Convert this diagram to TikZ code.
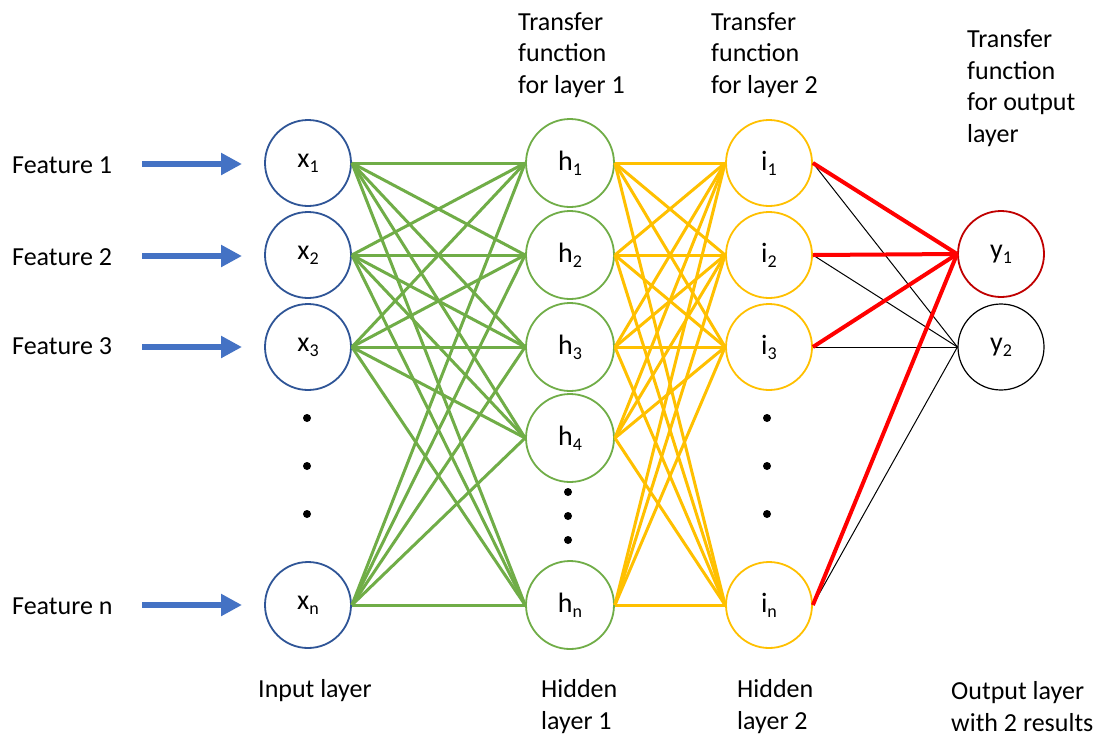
\documentclass[tikz,border=0pt]{standalone}
\usepackage{fontspec}
\setmainfont{Carlito}
\usetikzlibrary{arrows.meta}
\definecolor{inblue}{HTML}{2F5597}
\definecolor{arrblue}{HTML}{4472C4}
\definecolor{hgreen}{HTML}{70AD47}
\definecolor{iyellow}{HTML}{FFC000}
\definecolor{yred}{HTML}{C00000}
\definecolor{lred}{HTML}{FF0000}
\newcommand{\mysub}[1]{\raisebox{-5pt}{\fontsize{18}{18}\selectfont #1}}
\begin{document}
\begin{tikzpicture}[x=1pt,y=-1pt,
  txt/.style={font=\fontsize{26}{31.5}\selectfont, inner sep=0pt, align=left, anchor=base west},
  neuron/.style={circle, minimum size=86pt, inner sep=0pt, line width=1.8pt, font=\fontsize{28}{32}\selectfont},
  feat/.style={draw=arrblue, line width=6pt, -{Triangle[length=21pt,width=21pt]}},
  gline/.style={draw=hgreen, line width=3pt},
  yline/.style={draw=iyellow, line width=3pt},
  rline/.style={draw=lred, line width=4pt},
  kline/.style={draw=black, line width=1pt},
  dotnode/.style={circle, fill=black, inner sep=0pt, minimum size=8pt}]
\useasboundingbox (0,0) rectangle (1107,737);
\fill[white] (0,0) rectangle (1107,737);

% neurons
\foreach \n/\y in {1/163,2/255,3/347,n/605}
  \node[neuron, draw=inblue] (x\n) at (308,\y) {x\mysub{\n}};
\foreach \n/\y in {1/163,2/255,3/347,4/438,n/605}
  \node[neuron, draw=hgreen, minimum size=88pt] (h\n) at (570,\y) {h\mysub{\n}};
\foreach \n/\y in {1/163,2/255,3/347,n/605}
  \node[neuron, draw=iyellow] (i\n) at (769,\y) {i\mysub{\n}};
\node[neuron, draw=yred] (y1) at (1001,254) {y\mysub{1}};
\node[neuron, draw=black, line width=1.2pt] (y2) at (1001,347) {y\mysub{2}};

% connections
\foreach \a in {1,2,3,n}
  \foreach \b in {1,2,3,4,n}
    \draw[gline] (x\a.east) -- (h\b.west);
\foreach \a in {1,2,3,4,n}
  \foreach \b in {1,2,3,n}
    \draw[yline] (h\a.east) -- (i\b.west);
\foreach \a in {1,2,3,n}
  \draw[kline] (i\a.east) -- (y2.west);
\foreach \a in {1,2,3,n}
  \draw[rline] (i\a.east) -- (y1.west);

% dots
\foreach \y [count=\k] in {418,466,514} {
  \node[dotnode] (xd\k) at (307,\y) {};
  \node[dotnode] (id\k) at (767,\y) {};
}
\foreach \y [count=\k] in {492,516,540}
  \node[dotnode] (hd\k) at (568,\y) {};

% features
\foreach \n/\y/\b in {1/164/173,2/256/265,3/347/354,n/605/614} {
  \node[txt] (f\n) at (12,\b) {Feature \n};
  \coordinate (fs\n) at (142,\y);
  \coordinate (fe\n) at (242,\y);
  \draw[feat] (fs\n) -- (fe\n);
}

% labels (base anchor = last line)
\node[txt] (t1) at (518,93) {Transfer\\function\\for layer 1};
\node[txt] (t2) at (711,93) {Transfer\\function\\for layer 2};
\node[txt] (t3) at (967,142) {Transfer\\function\\for output\\layer};
\node[txt] (b0) at (258,697) {Input layer};
\node[txt] (b1) at (541,729) {Hidden\\layer 1};
\node[txt] (b2) at (737,729) {Hidden\\layer 2};
\node[txt] (b3) at (951,731) {Output layer\\with 2 results};
\end{tikzpicture}
\end{document}
